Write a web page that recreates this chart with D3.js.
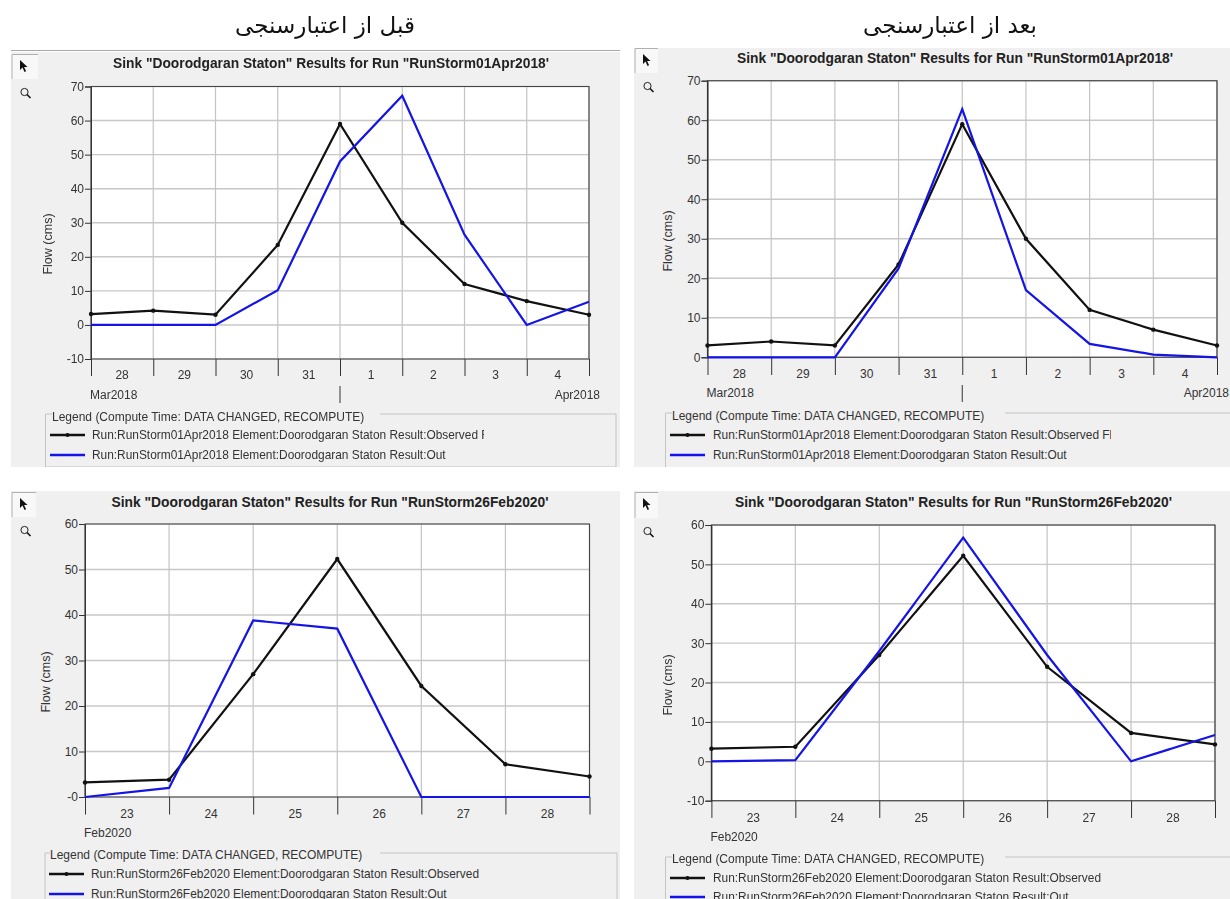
<!DOCTYPE html>
<html><head><meta charset="utf-8">
<script src="https://cdn.jsdelivr.net/npm/d3@7"></script>
<style>
html,body{margin:0;padding:0;background:#fff;overflow:hidden}
svg{display:block;filter:blur(0.35px)}
text{font-family:"Liberation Sans",Arial,sans-serif;fill:#333}
.title{font-weight:bold;font-size:13.8px;fill:#222;text-anchor:middle}
.head{font-family:"DejaVu Serif","DejaVu Sans",serif;font-size:23px;fill:#111;text-anchor:middle;direction:rtl}
</style></head><body>
<svg id="c" width="1230" height="899"></svg>
<script>
const headings = ["قبل از اعتبارسنجی", "بعد از اعتبارسنجی"];

const daysApr = ["28","29","30","31","1","2","3","4"];
const daysFeb = ["23","24","25","26","27","28"];

const obsA = [3.2,4.2,3,23.5,59,30,12,7,3];
const outA = [0,0,0,10.2,48,67.3,26.5,0,6.8];
const obsB = [3,4,3,23.5,59,30,12,7,3];
const outB = [0,0,0,22.5,62.8,17,3.4,0.7,0];
const obsC = [3.2,3.8,27,52.3,24.4,7.2,4.5];
const outC = [0,2,38.8,37,0,0,0];
const obsD = [3.2,3.7,27,52.2,24,7.2,4.3];
const outD = [0,0.3,28,56.8,27,0,6.7];

const ticksA = [-10,0,10,20,30,40,50,60,70];
const ticksB = [0,10,20,30,40,50,60,70];
const ticksC = [0,10,20,30,40,50,60];
const ticksD = [-10,0,10,20,30,40,50,60];

const legendTitle = "Legend (Compute Time: DATA CHANGED, RECOMPUTE)";
const staton = "Doorodgaran Staton";

const panels = [
 {run:"RunStorm01Apr2018",suffix:"Observed Flow",days:daysApr,obs:obsA,out:outA,ticks:ticksA,zero:"0",
  bg:[11,52,620,467],btn:[11,54,38,79],topLine:true,titleX:331,titleY:63,
  px:[91,589],py:[86.5,359],tickB:376,dayY:375,monY:395,monL:"Mar2018",monR:"Apr2018",monRX:600,split:4,splitY:[386,403],
  flowX:48,flowY:244,leg:[45.5,414,616,467],gap:[52,380],legT:417,rows:[435,455],sw:[50,85],txt:92,clip:484},
 {run:"RunStorm01Apr2018",suffix:"Observed Flow",days:daysApr,obs:obsB,out:outB,ticks:ticksB,zero:"0",
  bg:[634,48,1230,467],btn:[634,48,658,73],titleX:955,titleY:58,
  px:[707.5,1217],py:[80.7,357.3],tickB:375,dayY:374,monY:393,monL:"Mar2018",monR:"Apr2018",monRX:1229,split:4,splitY:[385,402],
  flowX:668,flowY:241,leg:[665.5,413,1235,470],gap:[672,1005],legT:416,rows:[435,455],sw:[670,705],txt:713,clip:1111},
 {run:"RunStorm26Feb2020",suffix:"Observed",days:daysFeb,obs:obsC,out:outC,ticks:ticksC,zero:"-0",
  bg:[11,491,620,899],btn:[11,492,36,517],titleX:330,titleY:502,
  px:[85,589.5],py:[524,797],tickB:814.5,dayY:814,monY:833,monL:"Feb2020",
  flowX:46,flowY:682,leg:[45,853,617,905],gap:[50,380],legT:855,rows:[874,894],sw:[49,84],txt:91,clip:620},
 {run:"RunStorm26Feb2020",suffix:"Observed",days:daysFeb,obs:obsD,out:outD,ticks:ticksD,zero:"0",
  bg:[634,491,1230,899],btn:[634,492,658,518],titleX:953.5,titleY:502,
  px:[711.4,1215],py:[525,800.7],tickB:818,dayY:818,monY:837,monL:"Feb2020",
  flowX:668,flowY:685,leg:[665.5,857,1235,905],gap:[672,1005],legT:859,rows:[878,897],sw:[670,705],txt:713,clip:1230}
];

const svg = d3.select("#c");
const defs = svg.append("defs");

headings.forEach((h,i)=>svg.append("text").attr("class","head")
  .attr("x",[325,950][i]).attr("y",33).text(h));

panels.forEach((p,i)=>{
  const g = svg.append("g");
  const blue="#1414e6", black="#111";
  g.append("rect").attr("x",p.bg[0]).attr("y",p.bg[1]).attr("width",p.bg[2]-p.bg[0]).attr("height",p.bg[3]-p.bg[1]).attr("fill","#f0f0f0");
  if(p.topLine) g.append("line").attr("x1",p.bg[0]).attr("x2",p.bg[2]).attr("y1",50.5).attr("y2",50.5).attr("stroke","#a8a8a8");

  // toolbar
  g.append("rect").attr("x",p.btn[0]).attr("y",p.btn[1]).attr("width",p.btn[2]-p.btn[0]).attr("height",p.btn[3]-p.btn[1]).attr("fill","#f8f8f8");
  g.append("path").attr("d",`M${p.btn[0]+1},${p.btn[3]}V${p.btn[1]+.5}H${p.btn[2]}`).attr("fill","none").attr("stroke","#b0b0b0");
  const ax=p.btn[0]+9, ay=p.btn[1]+6;
  g.append("path").attr("d",`M${ax},${ay}l0,10l2.5,-2.5l2,4.5l1.6,-.8l-2,-4.2l3.4,0z`).attr("fill","#111");
  const mx=p.btn[0]+13.5, my=p.btn[1]+(p.btn[3]-p.btn[1])+13;
  g.append("circle").attr("cx",mx).attr("cy",my).attr("r",3.6).attr("fill","none").attr("stroke","#222");
  g.append("line").attr("x1",mx+2.5).attr("y1",my+2.5).attr("x2",mx+6).attr("y2",my+6).attr("stroke","#111").attr("stroke-width",1.6);

  g.append("text").attr("class","title").attr("x",p.titleX).attr("y",p.titleY).attr("dy","0.35em")
    .text(`Sink "${staton}" Results for Run "${p.run}'`);

  const x = d3.scaleLinear().domain([0,p.days.length]).range(p.px);
  const y = d3.scaleLinear().domain(d3.extent(p.ticks)).range([p.py[1],p.py[0]]);
  const pts = d3.range(p.days.length+1);

  g.append("rect").attr("x",p.px[0]).attr("y",p.py[0]).attr("width",p.px[1]-p.px[0]).attr("height",p.py[1]-p.py[0]).attr("fill","#fff");
  g.selectAll(".gh").data(p.ticks).join("line").attr("x1",p.px[0]).attr("x2",p.px[1])
    .attr("y1",d=>y(d)).attr("y2",d=>y(d)).attr("stroke","#c8c8c8").attr("stroke-width",1.4);
  g.selectAll(".gv").data(pts).join("line").attr("x1",d=>x(d)).attr("x2",d=>x(d))
    .attr("y1",p.py[0]).attr("y2",p.py[1]).attr("stroke","#c4c4c4").attr("stroke-width",1.2);

  // axes
  const yAxis = d3.axisLeft(y).tickValues(p.ticks).tickSize(6).tickPadding(1)
     .tickFormat(d=>d===0?p.zero:(d<0?"-"+Math.abs(d):d));
  const ya = g.append("g").attr("transform",`translate(${p.px[0]},0)`).call(yAxis);
  ya.selectAll("path").attr("stroke","#222");
  ya.selectAll("line").attr("stroke","#333");
  ya.selectAll("text").style("font-family",'"Liberation Sans",Arial,sans-serif').style("font-size","12px").attr("fill","#333");

  g.append("path").attr("d",`M${p.px[0]},${p.py[1]}V${p.py[0]}H${p.px[1]}V${p.py[1]}H${p.px[0]}`)
    .attr("fill","none").attr("stroke",i%2?"#333":"#444").attr("stroke-width",1.1);

  const xa = d3.axisBottom(x).tickValues(pts).tickSize(p.tickB-p.py[1]).tickFormat("");
  const xg = g.append("g").attr("transform",`translate(0,${p.py[1]})`).call(xa);
  xg.select("path").remove();
  xg.selectAll("line").attr("stroke","#333");

  g.selectAll(".day").data(p.days).join("text")
    .attr("x",(d,j)=>(x(j)+x(j+1))/2).attr("y",p.dayY).attr("dy","0.35em").attr("text-anchor","middle")
    .style("font-size","12px").text(d=>d);
  g.append("text").attr("x",p.px[0]-1).attr("y",p.monY).attr("dy","0.35em").style("font-size","12px").text(p.monL);
  if(p.monR){
    g.append("text").attr("x",p.monRX).attr("y",p.monY).attr("dy","0.35em").attr("text-anchor","end").style("font-size","12px").text(p.monR);
    g.append("line").attr("x1",x(p.split)).attr("x2",x(p.split)).attr("y1",p.splitY[0]).attr("y2",p.splitY[1]).attr("stroke","#333");
  }
  g.append("text").attr("transform",`translate(${p.flowX},${p.flowY}) rotate(-90)`).attr("dy","0.35em")
    .attr("text-anchor","middle").style("font-size","12.5px").attr("fill","#444").text("Flow (cms)");

  // series
  const line = d3.line().x((d,j)=>x(j)).y(d=>y(d));
  g.append("path").attr("d",line(p.obs)).attr("fill","none").attr("stroke",black).attr("stroke-width",2.2);
  g.selectAll(".pt").data(p.obs).join("circle").attr("cx",(d,j)=>x(j)).attr("cy",d=>y(d)).attr("r",2.2).attr("fill",black);
  g.append("path").attr("d",line(p.out)).attr("fill","none").attr("stroke",blue).attr("stroke-width",2.2);

  // legend
  const cid="lc"+i;
  defs.append("clipPath").attr("id",cid).append("rect").attr("x",p.bg[0]).attr("y",p.bg[1]).attr("width",p.bg[2]-p.bg[0]).attr("height",p.bg[3]-p.bg[1]);
  const cid2="tc"+i;
  defs.append("clipPath").attr("id",cid2).append("rect").attr("x",p.bg[0]).attr("y",p.bg[1]).attr("width",p.clip-p.bg[0]).attr("height",p.bg[3]-p.bg[1]);
  const lg=g.append("g").attr("clip-path",`url(#${cid})`);
  lg.append("path").attr("d",`M${p.gap[0]},${p.leg[1]}H${p.leg[0]}V${p.leg[3]}H${p.leg[2]}V${p.leg[1]}H${p.gap[1]}`)
    .attr("fill","none").attr("stroke","#c4c4c4");
  lg.append("text").attr("x",p.gap[0]).attr("y",p.legT).attr("dy","0.35em").style("font-size","12px").text(legendTitle);
  const labels=[`Run:${p.run} Element:${staton} Result:${p.suffix}`,`Run:${p.run} Element:${staton} Result:Out`];
  labels.forEach((t,k)=>{
    const c=k?blue:black;
    lg.append("line").attr("x1",p.sw[0]).attr("x2",p.sw[1]).attr("y1",p.rows[k]).attr("y2",p.rows[k]).attr("stroke",c).attr("stroke-width",2.4);
    if(!k) lg.append("circle").attr("cx",(p.sw[0]+p.sw[1])/2).attr("cy",p.rows[k]).attr("r",2).attr("fill",c);
    lg.append("g").attr("clip-path",`url(#${cid2})`).append("text").attr("x",p.txt).attr("y",p.rows[k]).attr("dy","0.35em").style("font-size","11.9px").text(t);
  });
});
</script>
</body></html>
